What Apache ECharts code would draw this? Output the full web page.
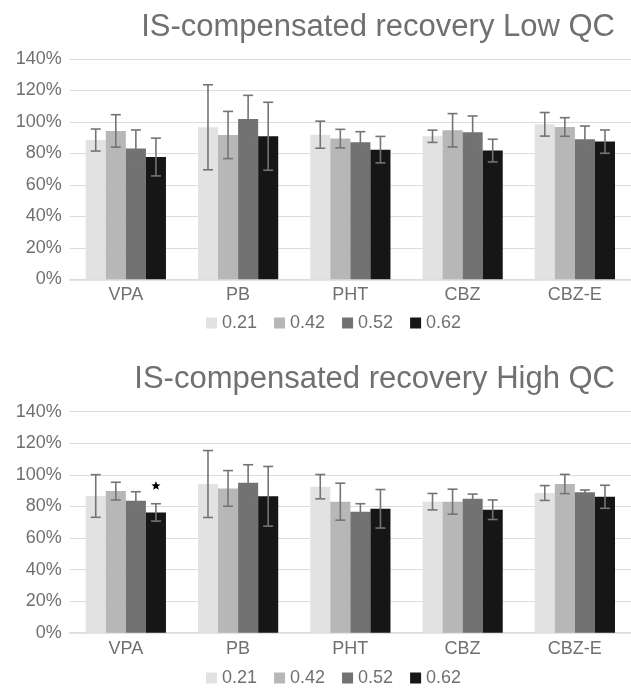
<!DOCTYPE html>
<html><head><meta charset="utf-8">
<script src="https://cdn.jsdelivr.net/npm/echarts@6/dist/echarts.min.js"></script>
<style>html,body{margin:0;padding:0;background:#fff}#c{width:631px;height:688px}</style>
</head><body><div id="c"></div>
<script>
// ---- data ----
const categories = ['VPA', 'PB', 'PHT', 'CBZ', 'CBZ-E'];
const seriesNames = ['0.21', '0.42', '0.52', '0.62'];
const yTickMin = 0, yTickMax = 140, yTickStep = 20;
const titles = ['IS-compensated recovery Low QC', 'IS-compensated recovery High QC'];

// Low QC mean recovery (%)
const low_021 = [88.5, 96.6, 91.9, 90.9, 98.5];
const low_042 = [94.3, 91.7, 89.4, 94.7, 96.8];
const low_052 = [83.2, 101.9, 87.1, 93.4, 89.0];
const low_062 = [77.7, 90.9, 82.4, 81.8, 87.5];
// Low QC error (+/-, %)
const lowErr_021 = [7.0, 27.0, 8.6, 3.9, 7.5];
const lowErr_042 = [10.3, 15.0, 5.9, 10.6, 5.9];
const lowErr_052 = [11.7, 15.0, 6.7, 10.4, 8.4];
const lowErr_062 = [12.0, 21.6, 8.4, 7.2, 7.4];

// High QC mean recovery (%)
const high_021 = [86.6, 94.2, 92.5, 83.0, 88.5];
const high_042 = [89.7, 91.4, 83.0, 83.0, 94.2];
const high_052 = [83.6, 95.0, 76.6, 84.9, 88.9];
const high_062 = [76.2, 86.4, 78.5, 77.9, 86.1];
// High QC error (+/-, %)
const highErr_021 = [13.5, 21.2, 7.7, 5.2, 4.7];
const highErr_042 = [5.6, 11.3, 11.7, 7.9, 6.1];
const highErr_052 = [5.7, 11.4, 5.1, 2.9, 1.5];
const highErr_062 = [5.5, 18.9, 12.2, 6.2, 7.3];

// significance marks: [category, series, value]
const highStars = [['VPA', '0.62', 93.0]];

// ---- styling ----
const colors = ['#e2e2e2', '#b7b7b7', '#727272', '#161616'];
const textColor = '#707070';
const gridColor = '#dcdcdc';
const errColor = '#747474';
const catGap = 0.285;

const panels = [
  { means: [low_021, low_042, low_052, low_062], errs: [lowErr_021, lowErr_042, lowErr_052, lowErr_062], stars: [] },
  { means: [high_021, high_042, high_052, high_062], errs: [highErr_021, highErr_042, highErr_052, highErr_062], stars: highStars }
];

const gridTops = [59, 411.7];
const gridBottoms = [688 - 279.3, 688 - 632.7];

const option = {
  animation: false,
  backgroundColor: '#fff',
  title: titles.map((t, i) => ({
    text: t, right: 11, top: i === 0 ? 7 : 359,
    textStyle: { fontFamily: 'Liberation Sans, Arial', fontSize: 31, fontWeight: 'normal', color: textColor }
  })),
  legend: [0, 1].map(i => ({
    data: seriesNames, left: 201, top: i === 0 ? 309 : 664,
    icon: 'rect', itemWidth: 11, itemHeight: 11, itemGap: 17,
    textStyle: { fontFamily: 'Liberation Sans, Arial', fontSize: 18, color: textColor, padding: [2, 0, 0, 0] }
  })),
  grid: [0, 1].map(i => ({ left: 69.7, right: -11.7, top: gridTops[i], bottom: gridBottoms[i] })),
  xAxis: [0, 1].map(i => ({
    type: 'category', gridIndex: i, data: categories,
    axisLine: { lineStyle: { color: gridColor, width: 1.5 } },
    axisTick: { show: false },
    axisLabel: { color: textColor, fontFamily: 'Liberation Sans, Arial', fontSize: 18, margin: 7 }
  })),
  yAxis: [0, 1].map(i => ({
    type: 'value', gridIndex: i, min: yTickMin, max: yTickMax, interval: yTickStep,
    axisLine: { show: false }, axisTick: { show: false },
    splitLine: { lineStyle: { color: gridColor, width: 1.2 } },
    axisLabel: { color: textColor, fontFamily: 'Liberation Sans, Arial', fontSize: 18, margin: 8, formatter: '{value}%' }
  })),
  series: []
};

panels.forEach((p, gi) => {
  seriesNames.forEach((name, si) => {
    option.series.push({
      type: 'bar', name: name, xAxisIndex: gi, yAxisIndex: gi,
      data: p.means[si], barGap: '0%', barCategoryGap: (catGap * 100) + '%',
      itemStyle: { color: colors[si] }, z: 2
    });
  });
  seriesNames.forEach((name, si) => {
    option.series.push({
      type: 'custom', name: name + ' err', xAxisIndex: gi, yAxisIndex: gi, z: 5,
      data: categories.map((c, ci) => [ci, p.means[si][ci] - p.errs[si][ci], p.means[si][ci] + p.errs[si][ci]]),
      encode: { x: 0, y: [1, 2] },
      renderItem: function (params, api) {
        const bw = api.size([1, 0])[0];
        const barW = bw * (1 - catGap) / seriesNames.length;
        const off = (si - (seriesNames.length - 1) / 2) * barW;
        const lo = api.coord([api.value(0), api.value(1)]);
        const hi = api.coord([api.value(0), api.value(2)]);
        const x = lo[0] + off;
        const cap = 5;
        const st = { stroke: errColor, lineWidth: 1.6 };
        return {
          type: 'group', children: [
            { type: 'line', shape: { x1: x, y1: lo[1], x2: x, y2: hi[1] }, style: st },
            { type: 'line', shape: { x1: x - cap, y1: lo[1], x2: x + cap, y2: lo[1] }, style: st },
            { type: 'line', shape: { x1: x - cap, y1: hi[1], x2: x + cap, y2: hi[1] }, style: st }
          ]
        };
      }
    });
  });
  if (p.stars.length) {
    option.series.push({
      type: 'custom', name: 'sig', xAxisIndex: gi, yAxisIndex: gi, z: 6,
      data: p.stars.map(s => [categories.indexOf(s[0]), seriesNames.indexOf(s[1]), s[2]]),
      encode: { x: 0, y: 2 },
      renderItem: function (params, api) {
        const bw = api.size([1, 0])[0];
        const barW = bw * (1 - catGap) / seriesNames.length;
        const si = api.value(1);
        const off = (si - (seriesNames.length - 1) / 2) * barW;
        const c = api.coord([api.value(0), api.value(2)]);
        const cx = c[0] + off, cy = c[1];
        const R = 4.8, r = 2.1, pts = [];
        for (let k = 0; k < 10; k++) {
          const a = -Math.PI / 2 + k * Math.PI / 5;
          const rr = k % 2 === 0 ? R : r;
          pts.push([cx + rr * Math.cos(a), cy + rr * Math.sin(a)]);
        }
        return { type: 'polygon', shape: { points: pts }, style: { fill: '#000' } };
      }
    });
  }
});

const chart = echarts.init(document.getElementById('c'), null, { renderer: 'canvas' });
chart.setOption(option);
</script>
</body></html>
